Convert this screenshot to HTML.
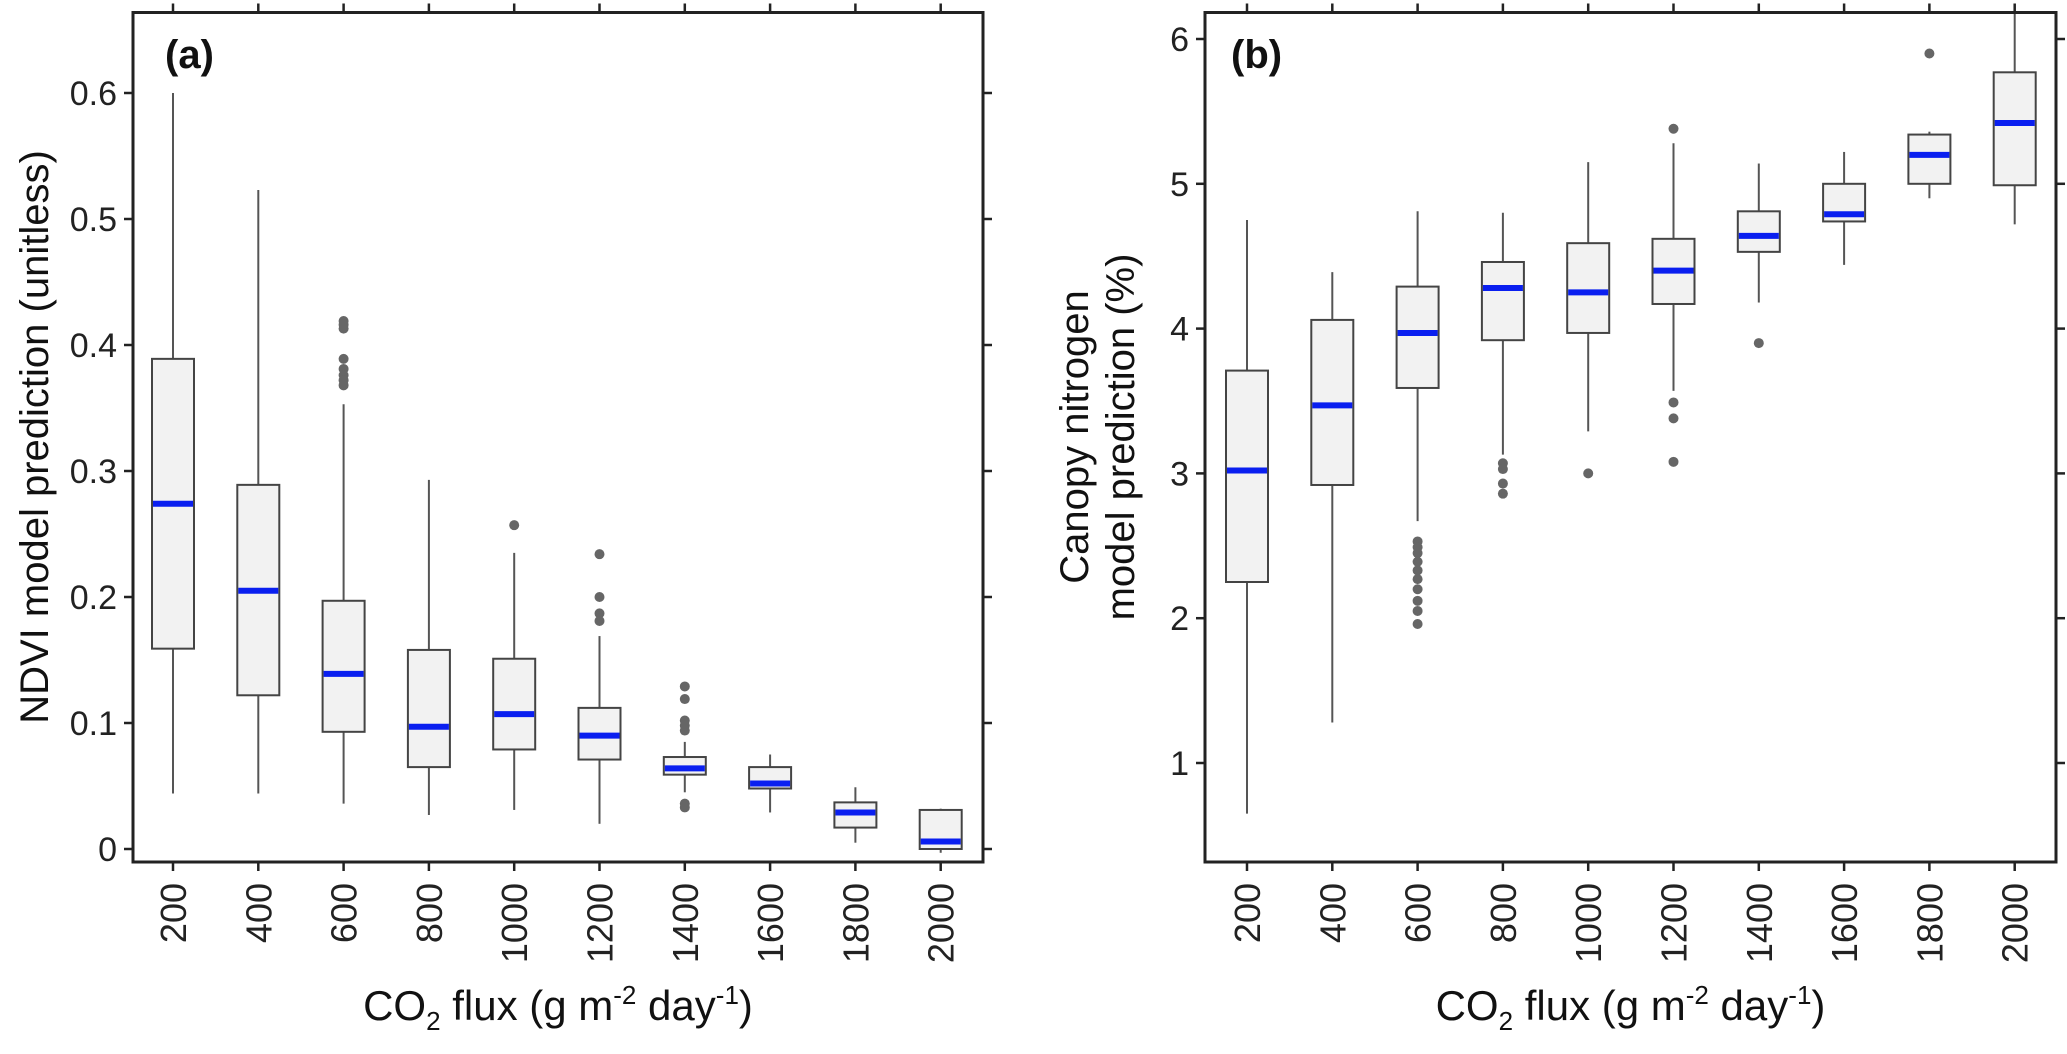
<!DOCTYPE html>
<html><head><meta charset="utf-8">
<style>
html,body{margin:0;padding:0;background:#fff;}
svg{display:block;font-family:"Liberation Sans",sans-serif;}
</style></head>
<body>
<svg id="chart" width="2067" height="1054" viewBox="0 0 2067 1054" xmlns="http://www.w3.org/2000/svg"></svg>
<script>
const categories = ["200","400","600","800","1000","1200","1400","1600","1800","2000"];
// Panel (a) NDVI
const aLow = [0.044,0.044,0.036,0.027,0.031,0.020,0.045,0.029,0.005,-0.003];
const aQ1  = [0.159,0.122,0.093,0.065,0.079,0.071,0.059,0.048,0.017,0.000];
const aMed = [0.274,0.205,0.139,0.097,0.107,0.090,0.064,0.052,0.029,0.006];
const aQ3  = [0.389,0.289,0.197,0.158,0.151,0.112,0.073,0.065,0.037,0.031];
const aHigh= [0.600,0.523,0.353,0.293,0.235,0.169,0.085,0.075,0.049,0.032];
const aOut = [[],[],[0.419,0.416,0.413,0.389,0.381,0.376,0.372,0.368],[],[0.257],[0.234,0.200,0.187,0.181],[0.129,0.119,0.102,0.098,0.094,0.036,0.033],[],[],[]];
const aTicks = [0,0.1,0.2,0.3,0.4,0.5,0.6];
const aTickLabels = ["0","0.1","0.2","0.3","0.4","0.5","0.6"];
// Panel (b) canopy nitrogen
const bLow = [0.65,1.28,2.67,3.13,3.29,3.57,4.18,4.44,4.90,4.72];
const bQ1  = [2.25,2.92,3.59,3.92,3.97,4.17,4.53,4.74,5.00,4.99];
const bMed = [3.02,3.47,3.97,4.28,4.25,4.40,4.64,4.79,5.20,5.42];
const bQ3  = [3.71,4.06,4.29,4.46,4.59,4.62,4.81,5.00,5.34,5.77];
const bHigh= [4.75,4.39,4.81,4.80,5.15,5.28,5.14,5.22,5.36,6.40];
const bOut = [[],[],[2.53,2.49,2.45,2.39,2.33,2.27,2.20,2.12,2.05,1.96],[3.07,3.03,2.93,2.86],[3.00],[5.38,3.49,3.38,3.08],[3.90],[],[5.90],[]];
const bTicks = [1,2,3,4,5,6];
const bTickLabels = ["1","2","3","4","5","6"];

const NS="http://www.w3.org/2000/svg";
const svg=document.getElementById('chart');
function mk(tag,attrs,parent){const e=document.createElementNS(NS,tag);for(const k in attrs)e.setAttribute(k,attrs[k]);(parent||svg).appendChild(e);return e;}

function panel(cfg){
  const g=mk('g',{});
  
  
  const L=cfg.left,R=cfg.right,T=12.5,B=862;
  const y=v=>cfg.y0px-(v-cfg.y0)*cfg.pxPerUnit;
  const x=i=>cfg.x0px+i*85.3;
  const clip='clip-'+cfg.name;
  const defs=mk('defs',{},g);
  const cp=mk('clipPath',{id:clip},defs);
  mk('rect',{x:L,y:T,width:R-L,height:B-T},cp);
  const marks=mk('g',{'clip-path':'url(#'+clip+')'},g);
  categories.forEach((c,i)=>{
    const bx=mk('g',{},marks);
    
    
    const cx=x(i),w=42;
    mk('line',{x1:cx,x2:cx,y1:y(cfg.high[i]),y2:y(cfg.q3[i]),stroke:'#555','stroke-width':2},bx);
    mk('line',{x1:cx,x2:cx,y1:y(cfg.q1[i]),y2:y(cfg.low[i]),stroke:'#555','stroke-width':2},bx);
    mk('rect',{x:cx-w/2,y:y(cfg.q3[i]),width:w,height:y(cfg.q1[i])-y(cfg.q3[i]),fill:'#f2f2f2',stroke:'#444','stroke-width':2},bx);
    mk('line',{x1:cx-w/2+1,x2:cx+w/2-1,y1:y(cfg.med[i]),y2:y(cfg.med[i]),stroke:'#0a1ff0','stroke-width':6},bx);
    cfg.out[i].forEach(v=>{
      const d=mk('circle',{cx:cx,cy:y(v),r:5,fill:'#666'},bx);
      
      
    });
  });
  const fr=mk('rect',{x:L,y:T,width:R-L,height:B-T,fill:'none',stroke:'#222','stroke-width':3},g);
  
  
  cfg.ticks.forEach((v,j)=>{
    mk('line',{x1:L-9,x2:L,y1:y(v),y2:y(v),stroke:'#222','stroke-width':2.5},g);
    mk('line',{x1:R,x2:R+9,y1:y(v),y2:y(v),stroke:'#222','stroke-width':2.5},g);
    const t=mk('text',{x:L-16,y:y(v)+12,'text-anchor':'end','font-size':34,fill:'#222'},g);
    t.textContent=cfg.tickLabels[j];
    
    
  });
  categories.forEach((c,i)=>{
    const cx=x(i);
    mk('line',{x1:cx,x2:cx,y1:B,y2:B+9,stroke:'#222','stroke-width':2.5},g);
    mk('line',{x1:cx,x2:cx,y1:T-9,y2:T,stroke:'#222','stroke-width':2.5},g);
    const t=mk('text',{x:0,y:0,'text-anchor':'end','font-size':36,fill:'#222',transform:'translate('+(cx+13)+','+883+') rotate(-90)'},g);
    t.textContent=c;
    
    
  });
  const lab=mk('text',{x:cfg.labX,y:68,'font-size':40,'font-weight':'bold',fill:'#111'},g);
  lab.textContent=cfg.label;
  
  
  const xt=mk('text',{x:(L+R)/2,y:1020,'text-anchor':'middle','font-size':42,fill:'#111'},g);
  xt.innerHTML='CO<tspan font-size="26" dy="10">2</tspan><tspan dy="-10"> flux (g m</tspan><tspan font-size="26" dy="-16">-2</tspan><tspan dy="16"> day</tspan><tspan font-size="26" dy="-16">-1</tspan><tspan dy="16">)</tspan>';
  
  
  return {g,y};
}

panel({name:'panel-a-ndvi',key:'a',left:133,right:983,y0:0,y0px:849,pxPerUnit:1260,x0px:173,
  low:aLow,q1:aQ1,med:aMed,q3:aQ3,high:aHigh,out:aOut,ticks:aTicks,tickLabels:aTickLabels,label:'(a)',labX:165});
const pa=svg.lastChild;
const ya=mk('text',{x:0,y:0,'text-anchor':'middle','font-size':40,fill:'#111',transform:'translate(48,437) rotate(-90)'},pa);
ya.textContent='NDVI model prediction (unitless)';



panel({name:'panel-b-nitrogen',key:'b',left:1205,right:2056,y0:1,y0px:763,pxPerUnit:144.8,x0px:1247,
  low:bLow,q1:bQ1,med:bMed,q3:bQ3,high:bHigh,out:bOut,ticks:bTicks,tickLabels:bTickLabels,label:'(b)',labX:1231});
const pb=svg.lastChild;
const yb=mk('text',{x:0,y:0,'text-anchor':'middle','font-size':40,fill:'#111',transform:'translate(1088,437) rotate(-90)'},pb);
yb.innerHTML='<tspan x="0" dy="0">Canopy nitrogen</tspan><tspan x="0" dy="46">model prediction (%)</tspan>';


</script>
</body></html>
